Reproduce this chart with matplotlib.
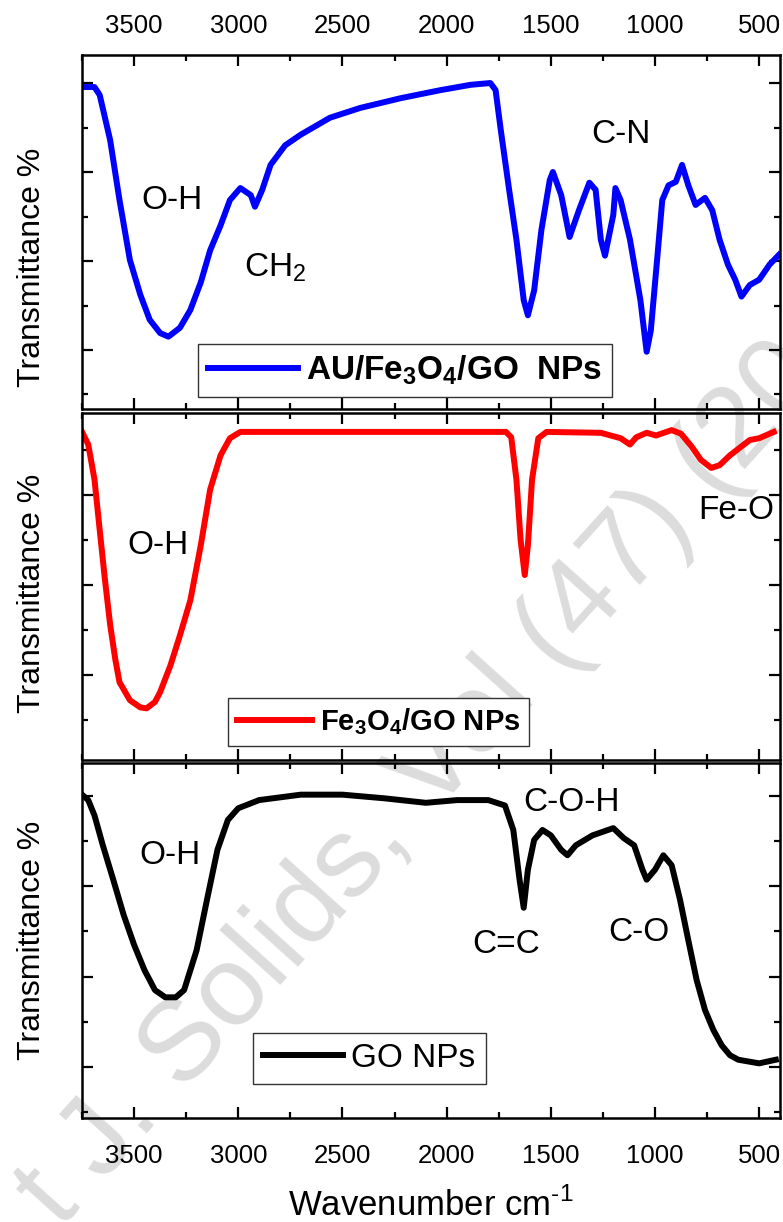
import matplotlib.pyplot as plt
import matplotlib as mpl
from matplotlib.ticker import MultipleLocator

params = {
    "font.family": ["Liberation Sans", "DejaVu Sans"],
    "mathtext.fontset": "custom",
    "mathtext.rm": "Liberation Sans",
    "mathtext.bf": "Liberation Sans:bold",
    "xtick.direction": "in",
    "ytick.direction": "in",
    "xtick.major.size": 8,
    "xtick.minor.size": 4,
    "ytick.major.size": 8,
    "ytick.minor.size": 4,
    "xtick.major.width": 1.6,
    "xtick.minor.width": 1.6,
    "ytick.major.width": 1.6,
    "ytick.minor.width": 1.6,
    "axes.linewidth": 1.8,
    "xtick.labelsize": 18.5,
}
mpl.rcParams.update(params)

# AU/Fe3O4/GO NPs (top)
wn_au = [3750, 3690, 3665, 3615, 3570, 3520, 3470, 3425, 3375, 3335, 3280, 3230,
         3180, 3135, 3085, 3040, 2990, 2940, 2920, 2885, 2845, 2775, 2700, 2560,
         2415, 2220, 2030, 1885, 1790, 1765, 1740, 1700, 1665, 1630, 1610, 1580,
         1545, 1505, 1490, 1450, 1410, 1365, 1315, 1285, 1260, 1240, 1200, 1190,
         1165, 1120, 1070, 1040, 1020, 990, 965, 935, 900, 870, 840, 805, 760,
         725, 690, 650, 615, 585, 545, 500, 450, 405]
t_au = [39.55, 39.55, 38.65, 33.6, 26.85, 20.1, 16.2, 13.4, 11.9, 11.5, 12.5, 14.5,
        17.6, 21.2, 24.0, 26.85, 28.2, 27.4, 26.1, 28.0, 30.8, 33.0, 34.2, 36.1,
        37.2, 38.3, 39.2, 39.8, 40.0, 39.2, 34.7, 28.0, 22.4, 15.6, 13.9, 16.7,
        23.5, 29.1, 30.0, 27.4, 22.7, 25.7, 28.8, 28.0, 22.4, 20.6, 25.2, 28.2,
        26.85, 22.4, 15.6, 9.8, 12.2, 20.1, 26.85, 28.5, 28.9, 30.8, 28.5, 26.3, 27.1,
        25.7, 22.4, 19.6, 17.9, 16.0, 17.3, 17.9, 19.6, 20.7]

# Fe3O4/GO NPs (middle)
wn_fe = [3750, 3720, 3690, 3665, 3640, 3615, 3590, 3570, 3520, 3470, 3440, 3400,
         3375, 3325, 3280, 3230, 3180, 3135, 3085, 3040, 2990, 1715, 1690, 1665,
         1645, 1625, 1610, 1590, 1560, 1520, 1260, 1165, 1120, 1090, 1040, 995,
         920, 875, 825, 780, 730, 690, 640, 590, 545, 500, 430]
t_fe = [37.0, 35.6, 31.7, 26.1, 20.6, 15.6, 11.7, 9.2, 7.2, 6.4, 6.3, 7.0,
        8.1, 11.1, 14.4, 18.3, 24.4, 30.6, 34.4, 36.3, 37.0, 37.0, 36.4, 31.7,
        25.0, 21.1, 24.4, 31.7, 36.3, 37.0, 36.9, 36.3, 35.6, 36.4, 36.9, 36.6,
        37.2, 36.8, 35.4, 33.9, 33.0, 33.3, 34.4, 35.3, 36.1, 36.3, 37.0]

# GO NPs (bottom)
wn_go = [3750, 3720, 3690, 3650, 3600, 3550, 3500, 3450, 3400, 3350, 3300, 3260,
         3200, 3150, 3100, 3050, 3000, 2900, 2700, 2500, 2300, 2100, 1950, 1800,
         1720, 1680, 1650, 1630, 1610, 1580, 1540, 1500, 1450, 1420, 1380, 1300,
         1200, 1150, 1100, 1060, 1040, 1000, 960, 920, 880, 840, 800, 760, 720,
         680, 640, 600, 550, 500, 420]
t_go = [40.1, 39.5, 37.8, 34.5, 30.7, 26.8, 23.5, 20.7, 18.5, 17.7, 17.7, 18.5,
        22.9, 28.5, 34.0, 37.3, 38.6, 39.5, 40.1, 40.1, 39.7, 39.2, 39.5, 39.5,
        38.9, 36.2, 30.7, 27.6, 31.8, 35.1, 36.2, 35.6, 34.0, 33.4, 34.5, 35.6,
        36.4, 35.3, 34.5, 31.8, 30.7, 31.8, 33.4, 32.3, 28.5, 24.0, 19.6, 16.3, 14.1,
        12.4, 11.3, 10.8, 10.6, 10.4, 10.8]

W, H = 783, 1222
fig = plt.figure(figsize=(W / 100, H / 100), dpi=100)


def px_axes(x0, y0, x1, y1):
    return fig.add_axes([x0 / W, 1 - y1 / H, (x1 - x0) / W, (y1 - y0) / H])


ax1 = px_axes(82, 55, 780, 409)
ax2 = px_axes(82, 413, 780, 760)
ax3 = px_axes(82, 763, 780, 1118)

ylims = [(3.37, 43.15), (0.56, 39.1), (4.36, 43.6)]
ylabel_y = [0.40, 0.48, 0.50]
for ax, yl, ly in zip([ax1, ax2, ax3], ylims, ylabel_y):
    ax.set_xlim(3750, 400)
    ax.set_ylim(*yl)
    ax.set_facecolor("none")
    ax.xaxis.set_major_locator(MultipleLocator(500))
    ax.xaxis.set_minor_locator(MultipleLocator(250))
    ax.yaxis.set_major_locator(MultipleLocator(10))
    ax.yaxis.set_minor_locator(MultipleLocator(5))
    ax.tick_params(which="both", top=True, right=True, labelleft=False,
                   labelbottom=False)
    ax.set_ylabel("Transmittance %", fontsize=23)
    ax.yaxis.set_label_coords(-0.05, ly)

ax1.tick_params(labeltop=True)
ax3.tick_params(labelbottom=True)
ax1.tick_params(axis="x", pad=12)
ax3.tick_params(axis="x", pad=19)

lw = 4.3
ax1.plot(wn_au, t_au, color="#0000ff", lw=lw, label=r"$\mathbf{AU/Fe_3O_4/GO}$  NPs")
ax2.plot(wn_fe, t_fe, color="#ff0000", lw=lw, label=r"$\mathbf{Fe_3O_4/GO}$ NPs")
ax3.plot(wn_go, t_go, color="black", lw=lw, label="GO NPs")

leg_kw = dict(loc="lower left", borderaxespad=0, fancybox=False, framealpha=1,
              edgecolor="#333333", handletextpad=0.25, borderpad=0.3)
l1 = ax1.legend(bbox_to_anchor=(0.166, 0.034), handlelength=2.7,
                prop={"size": 24, "weight": "bold"}, **leg_kw)
l2 = ax2.legend(bbox_to_anchor=(0.209, 0.04), handlelength=2.6,
                prop={"size": 21, "weight": "bold"}, **leg_kw)
l3 = ax3.legend(bbox_to_anchor=(0.245, 0.096), handlelength=2.4,
                prop={"size": 24}, **leg_kw)
for lg in (l1, l2, l3):
    lg.get_frame().set_linewidth(1.0)

ax3.set_xlabel("Wavenumber cm$^{\\mathregular{\u2010}1}$", fontsize=25, labelpad=14)

ann = dict(fontsize=24, ha="center", va="center")
ax1.text(3317, 26.85, "O-H", **ann)
ax1.text(2822, 19.2, r"CH$_2$", **ann)
ax1.text(1162, 34.2, "C-N", **ann)
ax2.text(3385, 24.4, "O-H", **ann)
ax2.text(609, 28.3, "Fe-O", **ann)
ax3.text(3327, 33.4, "O-H", **ann)
ax3.text(1403, 39.2, "C-O-H", **ann)
ax3.text(1715, 23.5, "C=C", **ann)
ax3.text(1076, 24.9, "C-O", **ann)

# faint diagonal watermark behind the panels
fig.text(60 / W, 1 - 1230 / H, "t J. Solids, Vol (47) (20", fontsize=82,
         color="#dcdcdc", rotation=48, rotation_mode="anchor", ha="left",
         va="baseline", zorder=-1)

fig.savefig("out.png", dpi=100)
